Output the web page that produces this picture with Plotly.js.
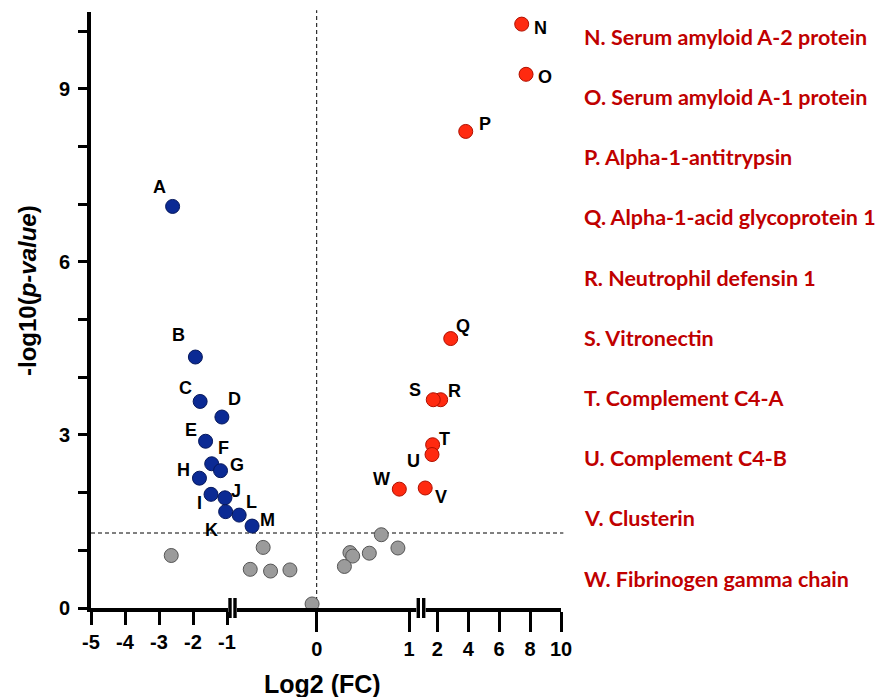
<!DOCTYPE html>
<html>
<head>
<meta charset="utf-8">
<script src="https://cdn.plot.ly/plotly-3.0.1.min.js"></script>
<style>html,body{margin:0;padding:0;background:#fff;}#chart{width:882px;height:697px;}</style>
</head>
<body>
<div id="chart"></div>
<script>
// ---- data ----
const downLabels = ['A','B','C','D','E','F','G','H','I','J','K','L','M'];
const downFC = [-2.60,-1.93,-1.79,-1.15,-1.63,-1.45,-1.19,-1.81,-1.47,-1.06,-1.04,-0.84,-0.70];
const downP  = [6.96, 4.35, 3.58, 3.31, 2.89, 2.50, 2.38, 2.25, 1.97, 1.91, 1.67, 1.61, 1.42];

const upLabels = ['N','O','P','Q','R','S','T','U','V','W'];
const upFC = [7.46, 7.74, 3.84, 2.87, 2.22, 1.74, 1.70, 1.66, 1.22, 0.895];
const upP  = [10.12, 9.25, 8.26, 4.67, 3.61, 3.61, 2.83, 2.66, 2.08, 2.06];

const grayFC = [-2.64,-0.58,-0.72,-0.50,-0.29,-0.05, 0.70, 0.88, 0.57, 0.36, 0.39, 0.30];
const grayP  = [ 0.91, 1.05, 0.67, 0.64, 0.66, 0.07, 1.27, 1.04, 0.95, 0.96, 0.90, 0.72];

const proteinNames = [
  'N. Serum amyloid A-2 protein',
  'O. Serum amyloid A-1 protein',
  'P. Alpha-1-antitrypsin',
  'Q. Alpha-1-acid glycoprotein 1',
  'R. Neutrophil defensin 1',
  'S. Vitronectin',
  'T. Complement C4-A',
  'U. Complement C4-B',
  'V. Clusterin',
  'W. Fibrinogen gamma chain'
];

const xTicksLeft = [-5,-4,-3,-2,-1];
const xTicksMid = [0,1];
const xTicksRight = [2,4,6,8,10];
const yTickVals = [0,1,2,3,4,5,6,7,8,9,10];
const yTickText = ['0','','','3','','','6','','','9',''];
const pThreshold = 1.3;

// ---- layout helpers (pixel geometry) ----
const W = 882, H = 697;
const mL = 91, mR = 321, mT = 12, mB = 89;
const pw = W - mL - mR, ph = H - mT - mB;
const fx = px => (px - mL) / pw;
const fy = py => (H - mB - py) / ph;

// segments of the broken x axis
const segAxes = ['x','x2','x3'];
function seg(v){ return v < -0.9 ? 0 : (v > 1.1 ? 2 : 1); }

const labelOffsets = {
  A:[-13,-19], B:[-17,-22], C:[-15,-13], D:[13,-18], E:[-15,-11], F:[12,-16],
  G:[16,-6], H:[-16,-8], I:[-12,9], J:[11,-7], K:[-14,18], L:[12,-13], M:[15,-6],
  N:[19,4], O:[19,3], P:[19,-7], Q:[12,-13], R:[14,-9], S:[-18,-10], T:[12,-6],
  U:[-19,6], V:[16,9], W:[-18,-10]
};

const traces = [];
function addGroup(fc, p, color, lineColor){
  for (let s = 0; s < 3; s++){
    const xs = [], ys = [];
    fc.forEach((v,i)=>{ if (seg(v) === s){ xs.push(v); ys.push(p[i]); } });
    if (!xs.length) continue;
    traces.push({
      type:'scatter', mode:'markers', x:xs, y:ys,
      xaxis: segAxes[s], yaxis:'y', cliponaxis:false, hoverinfo:'x+y',
      marker:{size:14, color:color, line:{color:lineColor, width:1}}
    });
  }
}
addGroup(grayFC, grayP, '#9b9b9b', '#555555');
addGroup(downFC, downP, '#0b2a94', '#06185c');
addGroup(upFC, upP, '#ff2a10', '#b01000');

const annotations = [];
function addLabels(labels, fc, p){
  labels.forEach((lab,i)=>{
    const o = labelOffsets[lab];
    annotations.push({
      xref: segAxes[seg(fc[i])], yref:'y', x: fc[i], y: p[i],
      text: lab, showarrow:false, xshift:o[0], yshift:-o[1],
      xanchor:'center', yanchor:'middle',
      font:{family:'Liberation Sans, Arial, sans-serif', size:18, weight:'bold', color:'#000'}
    });
  });
}
addLabels(downLabels, downFC, downP);
addLabels(upLabels, upFC, upP);

proteinNames.forEach((t,i)=>{
  annotations.push({
    xref:'paper', yref:'paper', x: fx(582), y: fy(36.7 + i*60.2),
    xanchor:'left', yanchor:'middle', showarrow:false, text:t,
    font:{family:'Lato, Open Sans, sans-serif', size:21.5, weight:'bold', color:'#c00000'}
  });
});

// axis titles
annotations.push({
  xref:'paper', yref:'paper', x: fx(322), y: fy(684), xanchor:'center', yanchor:'middle',
  showarrow:false, text:'Log2 (FC)',
  font:{family:'Liberation Sans, Arial, sans-serif', size:25, weight:'bold', color:'#000'}
});
annotations.push({
  xref:'paper', yref:'paper', x: fx(27), y: fy(291), xanchor:'center', yanchor:'middle',
  showarrow:false, textangle:-90, text:'-log10(<i>p-value</i>)',
  font:{family:'Liberation Sans, Arial, sans-serif', size:24, weight:'bold', color:'#000'}
});

const shapes = [
  {type:'line', xref:'paper', yref:'y', x0:0, x1:1.005, y0:pThreshold, y1:pThreshold,
   line:{color:'#000', width:1, dash:'4px,3px'}, layer:'below'},
  {type:'line', xref:'x2', yref:'paper', x0:0, x1:0, y0:0, y1:1.003,
   line:{color:'#000', width:1, dash:'4px,3px'}, layer:'below'}
];
// break marks
[[230,235],[418.3,423.7]].forEach(pair=>{
  shapes.push({type:'rect', xref:'paper', yref:'paper', x0:fx(pair[0]-2), x1:fx(pair[1]+2),
    y0:fy(604), y1:fy(612), fillcolor:'#fff', line:{width:0}, layer:'above'});
  pair.forEach(px=>{
    shapes.push({type:'line', xref:'paper', yref:'paper', x0:fx(px), x1:fx(px),
      y0:fy(598), y1:fy(618), line:{color:'#000', width:3.4}, layer:'above'});
  });
});

const tickFont = {family:'Liberation Sans, Arial, sans-serif', size:20, weight:'bold', color:'#000'};
const xBase = {
  showline:true, linecolor:'#000', linewidth:4, showgrid:false, zeroline:false,
  ticks:'outside', tickwidth:3, tickcolor:'#000', tickfont:tickFont, anchor:'y',
  tickmode:'array', fixedrange:true
};

const layout = {
  width:W, height:H, margin:{l:mL, r:mR, t:mT, b:mB, pad:0},
  paper_bgcolor:'#fff', plot_bgcolor:'#fff', showlegend:false,
  xaxis: Object.assign({}, xBase, {domain:[0, fx(229)], range:[-5, -1 + 2/34],
    tickvals:xTicksLeft, ticktext:xTicksLeft.map(String), ticklen:13}),
  xaxis2: Object.assign({}, xBase, {domain:[fx(236), fx(417)],
    range:[(236-316.7)/92.3, (417-316.7)/92.3],
    tickvals:xTicksMid, ticktext:xTicksMid.map(String), ticklen:20}),
  xaxis3: Object.assign({}, xBase, {domain:[fx(421.8), 1], range:[1, 10],
    tickvals:xTicksRight, ticktext:xTicksRight.map(String), ticklen:20}),
  yaxis: {domain:[0,1], range:[0, 10.33], anchor:'x', showline:true, linecolor:'#000',
    linewidth:4, showgrid:false, zeroline:false, ticks:'outside', ticklen:9, tickwidth:3,
    tickcolor:'#000', tickmode:'array', tickvals:yTickVals, ticktext:yTickText,
    tickfont:tickFont, fixedrange:true, ticklabelstandoff:4},
  annotations: annotations,
  shapes: shapes
};

Plotly.newPlot('chart', traces, layout, {displayModeBar:false, staticPlot:true});
</script>
</body>
</html>
